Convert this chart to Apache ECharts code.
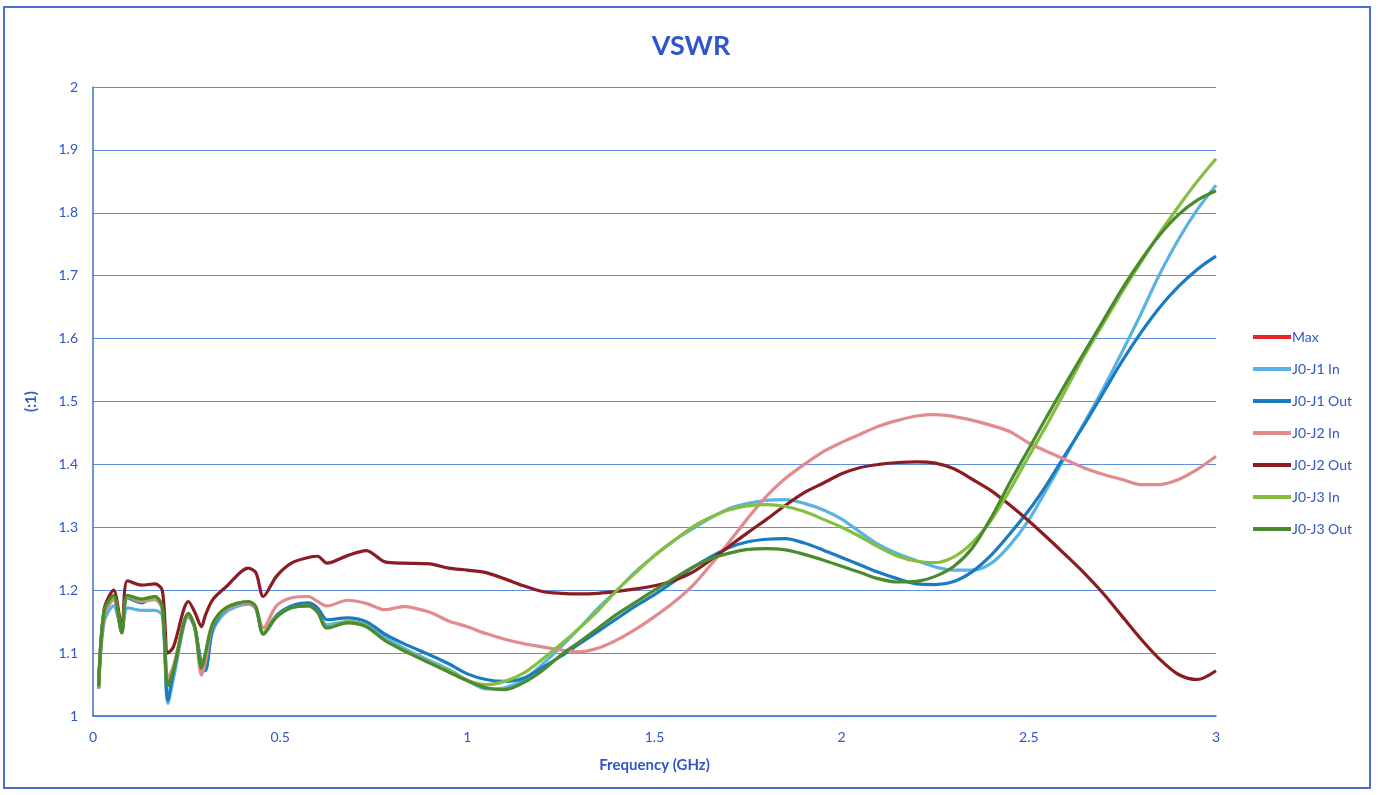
<!DOCTYPE html>
<html>
<head>
<meta charset="utf-8">
<script src="https://cdn.jsdelivr.net/npm/echarts@6/dist/echarts.min.js"></script>
<style>
  html, body { margin: 0; padding: 0; background: #fff; }
  #chart { width: 1382px; height: 795px; }
</style>
</head>
<body>
<div id="chart"></div>
<script>
// frequency points (GHz)
var freqs = [0.015, 0.03, 0.055, 0.077, 0.092, 0.13, 0.165, 0.185, 0.2, 0.215,
  0.255, 0.272, 0.29, 0.3, 0.32, 0.355, 0.415, 0.435, 0.455, 0.49,
  0.53, 0.575, 0.6, 0.625, 0.68, 0.73, 0.78, 0.83, 0.9, 0.95,
  1.0, 1.05, 1.1, 1.15, 1.2, 1.25, 1.3, 1.35, 1.4, 1.45,
  1.5, 1.55, 1.6, 1.65, 1.7, 1.75, 1.8, 1.85, 1.9, 1.95,
  2.0, 2.05, 2.1, 2.15, 2.2, 2.25, 2.3, 2.35, 2.4, 2.45,
  2.5, 2.55, 2.6, 2.65, 2.7, 2.75, 2.8, 2.85, 2.9, 2.95,
  3.0];

var maxValues = [];

var j1In = [1.043, 1.15, 1.175, 1.138, 1.172, 1.168, 1.168, 1.16, 1.02, 1.06,
  1.158, 1.14, 1.08, 1.075, 1.135, 1.165, 1.178, 1.17, 1.13, 1.158,
  1.172, 1.176, 1.166, 1.145, 1.15, 1.145, 1.125, 1.108, 1.088, 1.074,
  1.057, 1.043, 1.045, 1.057, 1.082, 1.11, 1.14, 1.172, 1.2, 1.23,
  1.255, 1.278, 1.297, 1.315, 1.33, 1.338, 1.343, 1.344, 1.338, 1.328,
  1.313, 1.292, 1.272, 1.258, 1.247, 1.237, 1.232, 1.232, 1.243, 1.272,
  1.312, 1.363, 1.415, 1.468, 1.522, 1.58, 1.64, 1.703, 1.758, 1.805,
  1.844];

var j1Out = [1.045, 1.16, 1.185, 1.134, 1.188, 1.18, 1.19, 1.172, 1.025, 1.07,
  1.16, 1.14, 1.082, 1.072, 1.14, 1.17, 1.18, 1.172, 1.132, 1.16,
  1.175, 1.18, 1.172, 1.153, 1.156, 1.15, 1.13, 1.115, 1.097, 1.083,
  1.067, 1.058, 1.055, 1.06, 1.077, 1.095, 1.115, 1.135, 1.155, 1.175,
  1.193, 1.213, 1.235, 1.253, 1.268, 1.277, 1.281, 1.282, 1.275, 1.264,
  1.252, 1.24, 1.228, 1.218, 1.21, 1.209, 1.214, 1.23, 1.256, 1.29,
  1.327, 1.37, 1.418, 1.465, 1.515, 1.565, 1.61, 1.65, 1.683, 1.71,
  1.731];

var j2In = [1.045, 1.16, 1.185, 1.135, 1.19, 1.182, 1.185, 1.17, 1.06, 1.08,
  1.16, 1.14, 1.065, 1.085, 1.145, 1.17, 1.18, 1.172, 1.14, 1.175,
  1.188, 1.19, 1.182, 1.175, 1.184, 1.179, 1.169, 1.174, 1.165, 1.151,
  1.142, 1.131, 1.122, 1.115, 1.11, 1.105, 1.102, 1.108, 1.121, 1.138,
  1.158, 1.18, 1.206, 1.24, 1.277, 1.315, 1.35, 1.378, 1.4, 1.42,
  1.435, 1.448, 1.461, 1.47, 1.477, 1.479, 1.476, 1.47, 1.462, 1.452,
  1.434, 1.42, 1.407, 1.394, 1.384, 1.376, 1.368, 1.368, 1.376, 1.392,
  1.413];

var j2Out = [1.05, 1.17, 1.2, 1.14, 1.215, 1.208, 1.21, 1.2, 1.1, 1.11,
  1.182, 1.165, 1.142, 1.16, 1.185, 1.205, 1.235, 1.228, 1.19, 1.222,
  1.243, 1.252, 1.254, 1.243, 1.255, 1.263, 1.245, 1.243, 1.242, 1.235,
  1.232, 1.228, 1.218, 1.207, 1.198, 1.195, 1.194, 1.195, 1.198, 1.202,
  1.207, 1.215, 1.228, 1.248, 1.27, 1.292, 1.313, 1.335, 1.355, 1.37,
  1.385, 1.395, 1.4, 1.403, 1.404, 1.402, 1.393, 1.376, 1.358, 1.335,
  1.31, 1.283, 1.255, 1.226, 1.194, 1.158, 1.122, 1.09, 1.066, 1.058,
  1.072];

var j3In = [1.047, 1.165, 1.19, 1.134, 1.19, 1.184, 1.188, 1.172, 1.05, 1.075,
  1.163, 1.14, 1.078, 1.1, 1.148, 1.172, 1.182, 1.172, 1.132, 1.158,
  1.172, 1.175, 1.165, 1.14, 1.15, 1.143, 1.12, 1.105, 1.085, 1.072,
  1.057, 1.05, 1.055, 1.068, 1.09, 1.114, 1.14, 1.168, 1.2, 1.228,
  1.255, 1.278, 1.3, 1.316, 1.328, 1.334, 1.336, 1.333, 1.325, 1.313,
  1.3, 1.285, 1.268, 1.254, 1.246, 1.244, 1.253, 1.276, 1.312, 1.36,
  1.413, 1.465, 1.52, 1.575, 1.625, 1.675, 1.722, 1.768, 1.81, 1.85,
  1.886];

var j3Out = [1.047, 1.168, 1.192, 1.132, 1.192, 1.186, 1.19, 1.174, 1.048, 1.073,
  1.163, 1.142, 1.076, 1.098, 1.147, 1.172, 1.182, 1.174, 1.13, 1.157,
  1.172, 1.175, 1.165, 1.14, 1.148, 1.142, 1.12, 1.104, 1.084, 1.07,
  1.056, 1.045, 1.042, 1.053, 1.072, 1.097, 1.118, 1.14, 1.162, 1.181,
  1.2, 1.218, 1.236, 1.25, 1.259, 1.265, 1.266, 1.264, 1.257, 1.248,
  1.238, 1.228, 1.218, 1.213, 1.214, 1.222, 1.238, 1.268, 1.316, 1.372,
  1.425, 1.478, 1.53, 1.58, 1.63, 1.68, 1.725, 1.765, 1.797, 1.82,
  1.835];

var seriesNames = ['Max', 'J0-J1 In', 'J0-J1 Out', 'J0-J2 In', 'J0-J2 Out', 'J0-J3 In', 'J0-J3 Out'];
var seriesValues = [maxValues, j1In, j1Out, j2In, j2Out, j3In, j3Out];
var seriesColors = ['#e8262a', '#5ab3e0', '#1b7bc2', '#e08c8e', '#8b1c22', '#86bf3f', '#4b8a2f'];

var blue = '#3156c6';
var font = 'Lato, "Noto Sans", sans-serif';

var chart = echarts.init(document.getElementById('chart'));

var series = seriesNames.map(function (name, k) {
  return {
    name: name,
    type: 'line',
    smooth: 0.3,
    showSymbol: false,
    symbol: 'none',
    lineStyle: { width: 3.2, color: seriesColors[k] },
    itemStyle: { color: seriesColors[k] },
    data: seriesValues[k].map(function (v, i) { return [freqs[i], v]; })
  };
});

chart.setOption({
  animation: false,
  title: {
    text: 'VSWR',
    left: 'center',
    top: 28,
    textStyle: { color: blue, fontSize: 27, fontWeight: 'bold', fontFamily: font }
  },
  legend: {
    orient: 'vertical',
    left: 1248,
    top: 325,
    icon: 'rect',
    itemWidth: 38,
    itemHeight: 4,
    itemGap: 18,
    textStyle: { color: blue, fontSize: 14, fontFamily: font, padding: [0, 0, 0, -4] },
    data: seriesNames
  },
  grid: { left: 93, right: 166, top: 87, bottom: 79 },
  xAxis: {
    type: 'value',
    min: 0,
    max: 3,
    interval: 0.5,
    name: 'Frequency (GHz)',
    nameLocation: 'middle',
    nameGap: 42,
    nameTextStyle: { color: blue, fontSize: 15, fontWeight: 'bold', fontFamily: font },
    axisLine: { show: true, lineStyle: { color: '#3d6fd0', width: 1.5 } },
    axisTick: { show: false },
    axisLabel: { color: blue, fontSize: 14, fontFamily: font, margin: 14 },
    splitLine: { show: false }
  },
  yAxis: {
    type: 'value',
    min: 1,
    max: 2,
    interval: 0.1,
    name: '(:1)',
    nameLocation: 'middle',
    nameGap: 54,
    nameRotate: 90,
    nameTextStyle: { color: blue, fontSize: 15, fontWeight: 'bold', fontFamily: font },
    axisLine: { show: true, lineStyle: { color: '#3d6fd0', width: 1.5 } },
    axisTick: { show: false },
    axisLabel: { color: blue, fontSize: 14, fontFamily: font, margin: 15 },
    splitLine: { show: true, lineStyle: { color: '#5f8fe0', width: 1.2 } }
  },
  graphic: [{
    type: 'rect',
    shape: { x: 4, y: 7, width: 1366, height: 781 },
    style: { fill: 'none', stroke: '#4a6fd2', lineWidth: 2 },
    silent: true
  }],
  series: series
});
</script>
</body>
</html>
